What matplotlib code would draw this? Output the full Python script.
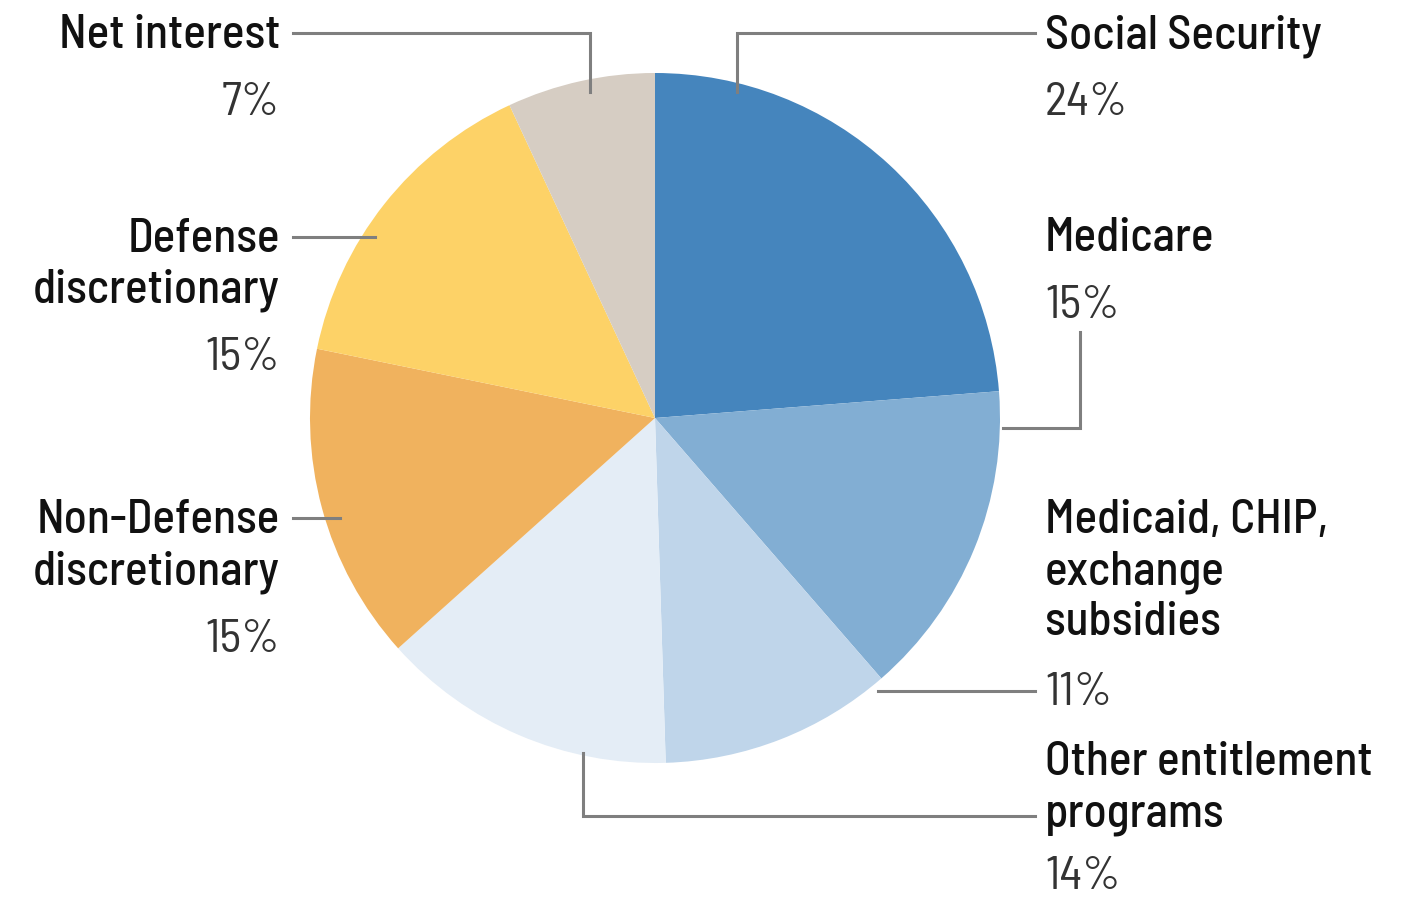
import matplotlib
matplotlib.use("Agg")
import matplotlib.pyplot as plt

# federal spending shares, clockwise from 12 o'clock
categories = ["Social Security", "Medicare", "Medicaid, CHIP,\nexchange\nsubsidies",
              "Other entitlement\nprograms", "Non-Defense\ndiscretionary",
              "Defense\ndiscretionary", "Net interest"]
shares = [24, 15, 11, 14, 15, 15, 7]
pct_labels = ["24%", "15%", "11%", "14%", "15%", "15%", "7%"]
colors = ["#4585bd", "#82aed3", "#bfd5ea", "#e4edf6", "#f0b25e", "#fdd267", "#d6cdc3"]

plt.rcParams["font.family"] = ["Barlow Semi Condensed", "Roboto Condensed", "DejaVu Sans"]

W, H = 1407, 898
fig = plt.figure(figsize=(W / 100, H / 100), dpi=100)
ax = fig.add_axes([0, 0, 1, 1])

# y axis runs top-down in pixels, so counterclock=True draws clockwise on screen
cx, cy, r = 655, 418, 345
ax.pie(shares, colors=colors, startangle=-90, counterclock=True,
       center=(cx, cy), radius=r, wedgeprops=dict(linewidth=0))

ax.set_xlim(0, W)
ax.set_ylim(H, 0)
ax.set_aspect("equal")
ax.axis("off")

# label placement: x, anchor, first baseline, percent baseline
layout = [
    (1045, "left", 48, 115),
    (1045, "left", 251, 318),
    (1045, "left", 533, 705),
    (1045, "left", 775, 889),
    (280, "right", 533, 652),
    (280, "right", 252, 370),
    (280, "right", 48, 115),
]
for name, pct, (x, ha, y0, yp) in zip(categories, pct_labels, layout):
    for i, line in enumerate(name.split("\n")):
        ax.text(x, y0 + i * 51, line, ha=ha, va="baseline", fontsize=34,
                color="#111111", fontweight="medium")
    ax.text(x, yp, pct, ha=ha, va="baseline", fontsize=34, color="#333333",
            fontweight="normal")

# leader lines
leaders = [
    ([737, 737, 1035], [92, 33, 33]),
    ([1003, 1080, 1080], [428, 428, 332]),
    ([878, 1035], [691, 691]),
    ([583, 583, 1035], [753, 816, 816]),
    ([293, 340], [518, 518]),
    ([293, 375], [237, 237]),
    ([293, 590, 590], [33, 33, 92]),
]
for xs, ys in leaders:
    ax.plot(xs, ys, color="#7f7f7f", linewidth=2.2, solid_joinstyle="miter")

fig.savefig("out.png", dpi=100)
